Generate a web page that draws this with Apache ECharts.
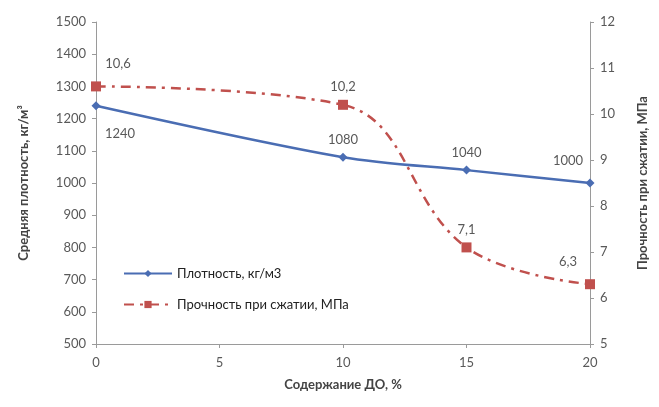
<!DOCTYPE html>
<html><head><meta charset="utf-8">
<script src="https://cdn.jsdelivr.net/npm/echarts@6/dist/echarts.min.js"></script>
<style>html,body{margin:0;padding:0;background:#fff}#c{width:659px;height:407px}</style>
</head><body><div id="c"></div>
<script>
const xValues = [0, 10, 15, 20];
const density = [1240, 1080, 1040, 1000];
const strength = [10.6, 10.2, 7.1, 6.3];
const densityName = 'Плотность, кг/м3';
const strengthName = 'Прочность при сжатии, МПа';
const densityLabelPos = ['bottomRight', 'top', 'top', 'topLeft'];
const strengthLabelPos = ['topRight', 'top', 'top', 'topLeft'];

const font = 'Lato, "Open Sans", sans-serif';
const txt = '#595959';
const posMap = {
  top: {position: 'top', distance: 6},
  topRight: {position: 'top', offset: [22, -6]},
  topLeft: {position: 'top', offset: [-22, -6]},
  bottomRight: {position: 'bottom', offset: [24, 12]}
};
function mk(vals, pos, fmt) {
  return vals.map((v, i) => ({
    value: [xValues[i], v],
    label: Object.assign({show: true, formatter: fmt(v)}, posMap[pos[i]])
  }));
}
const chart = echarts.init(document.getElementById('c'));
chart.setOption({
  animation: false,
  textStyle: {fontFamily: font},
  grid: {left: 96, right: 69, top: 22, bottom: 63},
  legend: {
    orient: 'vertical', left: 118, top: 262, itemGap: 18,
    itemWidth: 48, itemHeight: 9,
    textStyle: {fontFamily: font, fontSize: 13, color: '#222'},
    data: [densityName, strengthName]
  },
  xAxis: {
    type: 'value', min: 0, max: 20, interval: 5,
    name: 'Содержание ДО, %', nameLocation: 'middle', nameGap: 34,
    nameTextStyle: {fontFamily: font, fontSize: 13, fontWeight: 'bold', color: '#444'},
    axisLine: {lineStyle: {color: '#9a9a9a'}},
    axisTick: {inside: false, length: 4, lineStyle: {color: '#9a9a9a'}},
    axisLabel: {color: txt, fontSize: 13, margin: 12},
    splitLine: {show: false}
  },
  yAxis: [{
    type: 'value', min: 500, max: 1500, interval: 100,
    name: 'Средняя плотность, кг/м³', nameLocation: 'middle', nameGap: 66, nameRotate: 90,
    nameTextStyle: {fontFamily: font, fontSize: 13, fontWeight: 'bold', color: '#444'},
    axisLine: {show: true, lineStyle: {color: '#9a9a9a'}},
    axisTick: {show: true, length: 4, lineStyle: {color: '#9a9a9a'}},
    axisLabel: {color: txt, fontSize: 13, margin: 10, formatter: v => String(v)},
    splitLine: {show: false}
  }, {
    type: 'value', min: 5, max: 12, interval: 1, position: 'right',
    name: 'Прочность при сжатии, МПа', nameLocation: 'middle', nameGap: 46, nameRotate: 90,
    nameTextStyle: {fontFamily: font, fontSize: 13, fontWeight: 'bold', color: '#444'},
    axisLine: {show: true, lineStyle: {color: '#9a9a9a'}},
    axisTick: {show: true, length: 4, lineStyle: {color: '#9a9a9a'}},
    axisLabel: {color: txt, fontSize: 13, margin: 10, formatter: v => String(v)},
    splitLine: {show: false}
  }],
  series: [{
    name: densityName, type: 'line', yAxisIndex: 0, smooth: 0.3,
    symbol: 'diamond', symbolSize: 9,
    itemStyle: {color: '#4a6db3'},
    lineStyle: {color: '#4a6db3', width: 2.5},
    label: {color: txt, fontSize: 13},
    data: mk(density, densityLabelPos, v => String(v))
  }, {
    name: strengthName, type: 'line', yAxisIndex: 1, smooth: 0.4,
    symbol: 'rect', symbolSize: 10,
    itemStyle: {color: '#c0504d'},
    lineStyle: {color: '#c0504d', width: 2.5, type: [10, 6, 3, 6]},
    label: {color: txt, fontSize: 13},
    data: mk(strength, strengthLabelPos, v => String(v).replace('.', ','))
  }]
});
</script></body></html>
